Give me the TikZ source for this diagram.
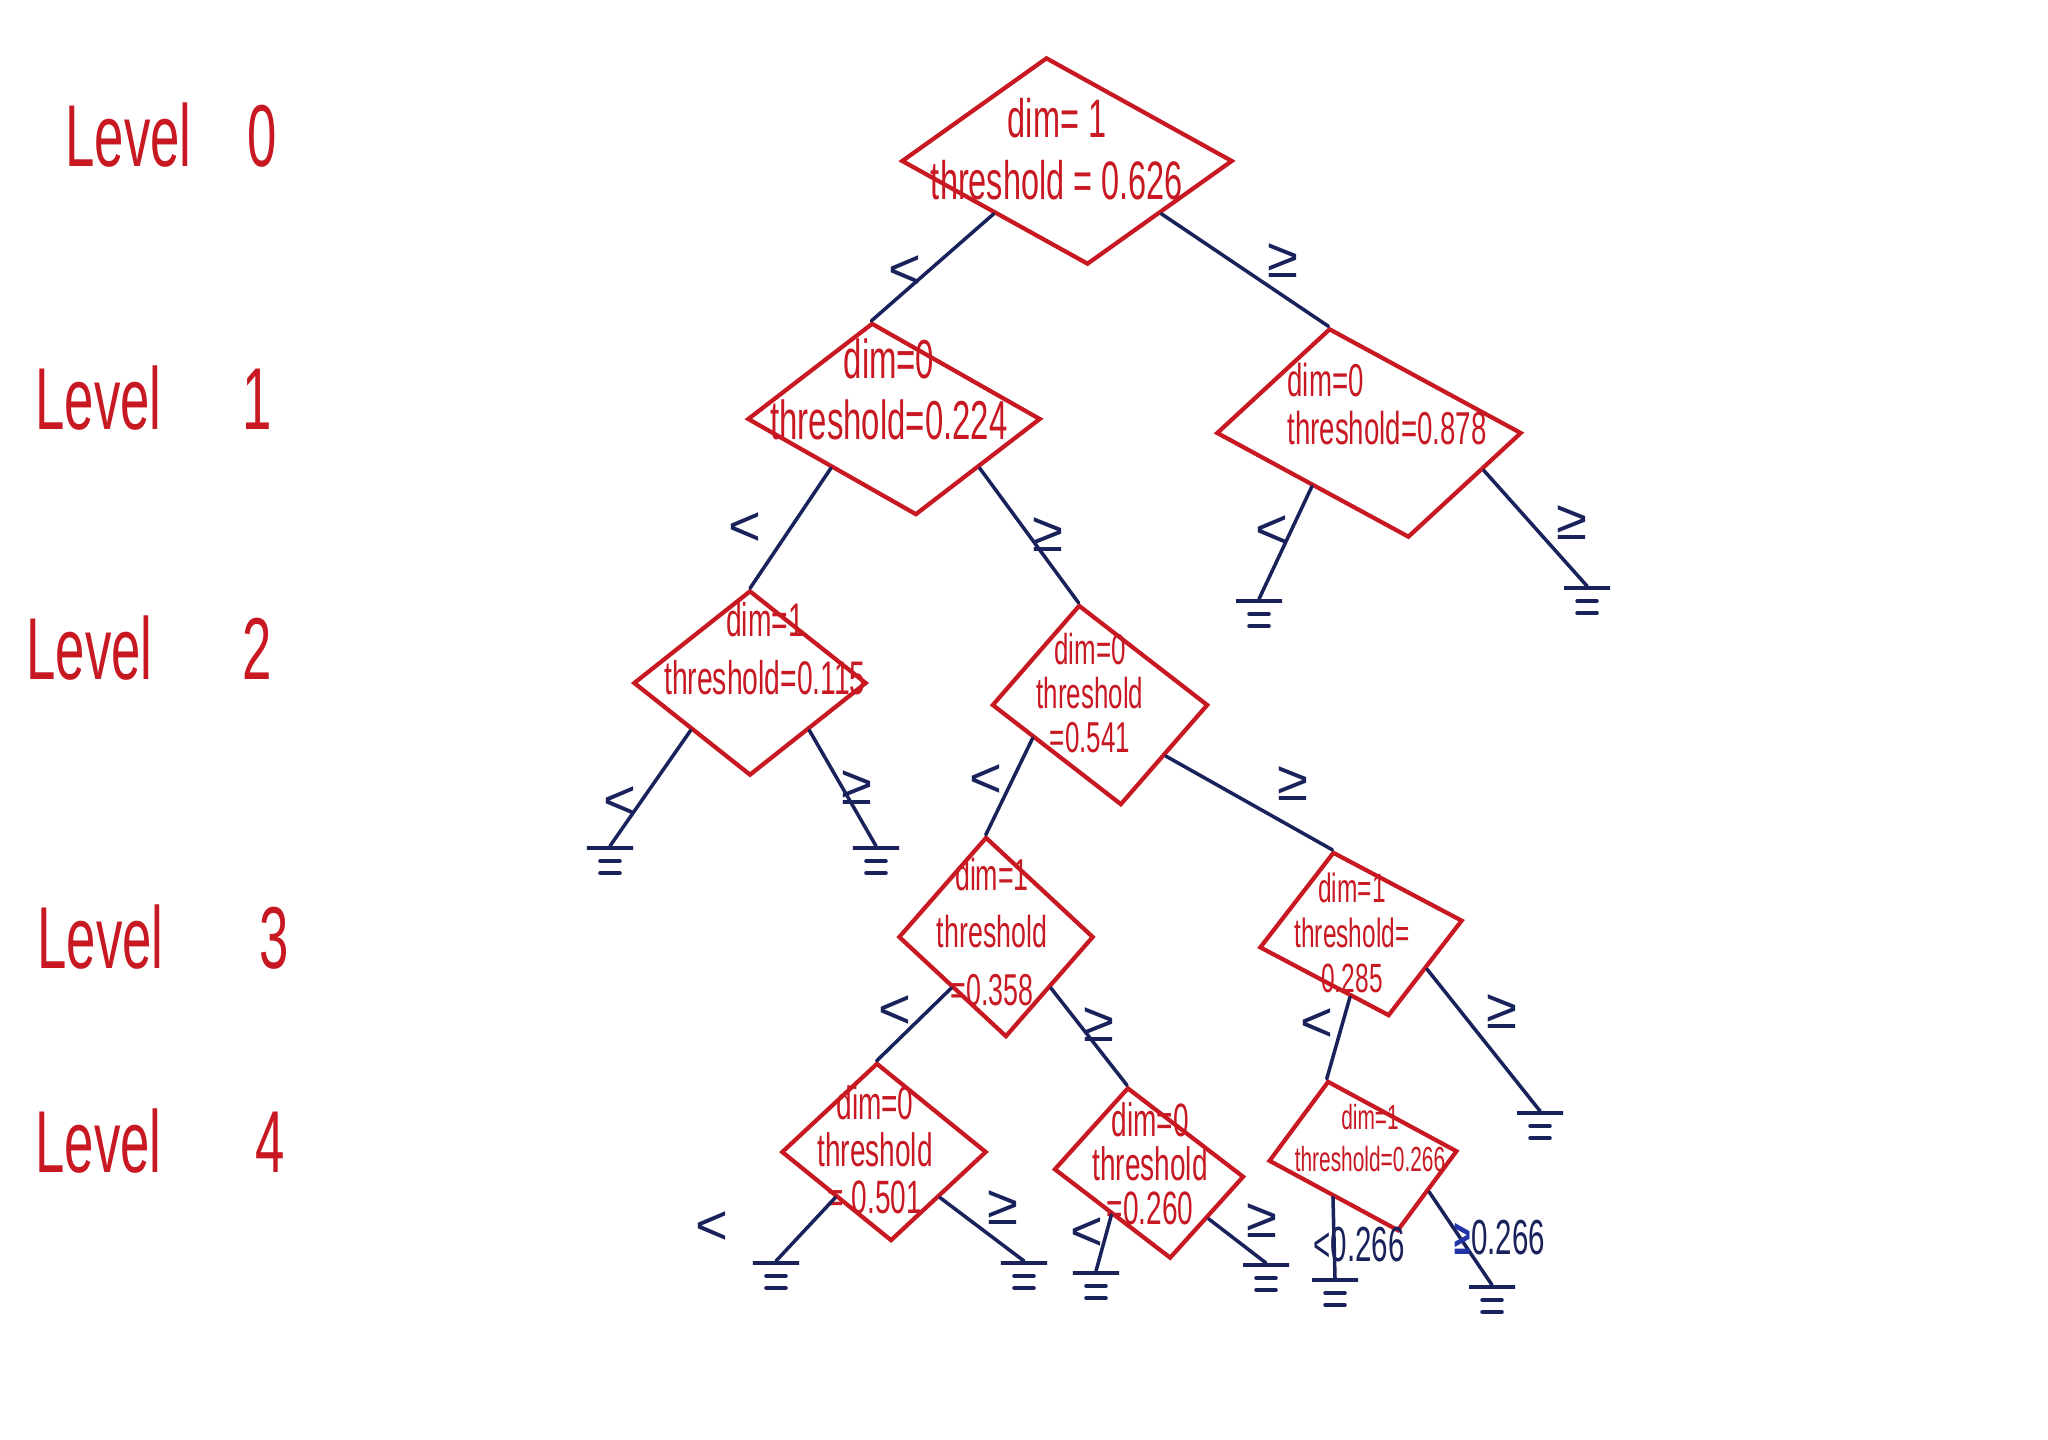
\documentclass[tikz,border=0pt]{standalone}
\usepackage{fontspec}
\setmainfont{Liberation Sans}
\usetikzlibrary{shapes.geometric,calc}
\definecolor{inkred}{RGB}{200,24,34}
\definecolor{inkblue}{RGB}{26,34,92}
\definecolor{inkbright}{RGB}{34,52,168}

\begin{document}
\begin{tikzpicture}[x=0.01cm, y=-0.01cm,
  split/.style={diamond, draw=inkred, line width=1.2pt, inner sep=0pt},
  hand/.style={text=inkred, align=center, inner sep=0pt, xscale=0.6},
  level/.style={text=inkred, anchor=west, inner sep=0pt, xscale=0.6, font=\fontsize{25}{25}\selectfont},
  wire/.style={draw=inkblue, line width=1pt, line cap=round},
  cmp/.style={text=inkblue, inner sep=0pt, font=\fontsize{16}{16}\selectfont},
  leaf/.style={anchor=north, minimum width=0.46cm, minimum height=0.3cm, inner sep=0pt, outer sep=0pt,
    path picture={
      \draw[wire] ([yshift=-0.02cm]path picture bounding box.north west) -- ([yshift=-0.02cm]path picture bounding box.north east);
      \draw[wire] ([xshift=-0.1cm,yshift=0.15cm]path picture bounding box.south) -- ++(0.2cm,0);
      \draw[wire] ([xshift=-0.1cm,yshift=0.03cm]path picture bounding box.south) -- ++(0.2cm,0);
    }}]
\fill[white] (0,0) rectangle (2048,1439);
\useasboundingbox (0,0) rectangle (2048,1439);

% levels
\node[level] (v0) at (65,135) {Level\hspace{0.93cm}0};
\node[level] (v1) at (35,398) {Level\hspace{1.35cm}1};
\node[level] (v2) at (26,648) {Level\hspace{1.5cm}2};
\node[level] (v3) at (37,937) {Level\hspace{1.6cm}3};
\node[level] (v4) at (35,1141) {Level\hspace{1.57cm}4};

% splits
\node[split, minimum width=3.31cm, minimum height=2.07cm, xslant=-0.2] (d0) at (1067,161) {};
\node[split, minimum width=2.93cm, minimum height=1.92cm, xslant=-0.23] (d1) at (894,419) {};
\node[split, minimum width=3.05cm, minimum height=2.09cm, xslant=-0.38] (d2) at (1369,433) {};
\node[split, minimum width=2.33cm, minimum height=1.85cm] (d3) at (750,683) {};
\node[split, minimum width=2.16cm, minimum height=2.00cm, xslant=-0.21] (d4) at (1100,705) {};
\node[split, minimum width=1.95cm, minimum height=2.00cm, xslant=-0.1] (d5) at (996,937) {};
\node[split, minimum width=2.12cm, minimum height=1.64cm, xslant=-0.34, yslant=0.127] (d6) at (1361,934) {};
\node[split, minimum width=2.05cm, minimum height=1.78cm, xslant=-0.08] (d7) at (884,1152) {};
\node[split, minimum width=1.88cm, minimum height=1.71cm, xslant=-0.25, yslant=-0.04] (d8) at (1149,1173) {};
\node[split, minimum width=1.93cm, minimum height=1.50cm, xslant=-0.47, yslant=0.05] (d9) at (1363,1156) {};

\node[hand, font=\fontsize{15.4}{17.6}\selectfont] (t0) at (1057,149) {dim= 1\\threshold = 0.626};
\node[hand, font=\fontsize{15.6}{17.4}\selectfont] (t1) at (889,389) {dim=0\\threshold=0.224};
\node[hand, align=left, font=\fontsize{13.1}{13.7}\selectfont] (t2) at (1387,404) {dim=0\\threshold=0.878};
\node[hand, font=\fontsize{13.4}{16.5}\selectfont] (t3) at (765,649) {dim=1\\threshold=0.115};
\node[hand, font=\fontsize{12.3}{12.5}\selectfont] (t4) at (1090,693) {dim=0\\threshold\\=0.541};
\node[hand, font=\fontsize{12.7}{16.3}\selectfont] (t5) at (992,932) {dim=1\\threshold\\=0.358};
\node[hand, font=\fontsize{11.6}{12.7}\selectfont] (t6) at (1352,933) {dim=1\\threshold=\\0.285};
\node[hand, font=\fontsize{13.3}{13.4}\selectfont] (t7) at (875,1150) {dim=0\\threshold\\= 0.501};
\node[hand, font=\fontsize{13.3}{12.5}\selectfont] (t8) at (1150,1164) {dim=0\\threshold\\=0.260};
\node[hand, font=\fontsize{9.9}{12.2}\selectfont] (t9) at (1370,1138) {dim=1\\threshold=0.266};

% leaves
\node[leaf] (f1) at (1259,599) {};
\node[leaf] (f2) at (1587,586) {};
\node[leaf] (f3) at (610,846) {};
\node[leaf] (f4) at (876,846) {};
\node[leaf] (f5) at (776,1261) {};
\node[leaf] (f6) at (1024,1261) {};
\node[leaf] (f7) at (1096,1271) {};
\node[leaf] (f8) at (1266,1263) {};
\node[leaf] (f9) at (1335,1278) {};
\node[leaf] (f10) at (1492,1285) {};
\node[leaf] (f11) at (1540,1111) {};

% branches
\draw[wire] (d0.south west) -- (d1.north);
\draw[wire] (d0.south east) -- (d2.north);
\draw[wire] (d1.south west) -- (d3.north);
\draw[wire] (d1.south east) -- (d4.north);
\draw[wire] (d2.south west) -- (f1.north);
\draw[wire] ($(d2.south east)!0.3!(d2.east)$) -- (f2.north);
\draw[wire] (d3.south west) -- (f3.north);
\draw[wire] (d3.south east) -- (f4.north);
\draw[wire] ($(d4.south west)!0.35!(d4.west)$) -- (d5.north);
\draw[wire] (d4.south east) -- (d6.north);
\draw[wire] (d5.south west) -- (d7.north);
\draw[wire] (d5.south east) -- (d8.north);
\draw[wire] ($(d6.south west)!0.4!(d6.south)$) -- (d9.north);
\draw[wire] (d6.south east) -- (f11.north);
\draw[wire] (d7.south west) -- (f5.north);
\draw[wire] (d7.south east) -- (f6.north);
\draw[wire] (d8.south west) -- (f7.north);
\draw[wire] (d8.south east) -- (f8.north);
\draw[wire] (d9.south west) -- (f9.north);
\draw[wire] (d9.south east) -- (f10.north);

\node[cmp] (c1) at (905,272) {<};
\node[cmp] (c2) at (1283,261) {≥};
\node[cmp] (c3) at (745,529) {<};
\node[cmp] (c4) at (1048,535) {≥};
\node[cmp] (c5) at (1272,532) {<};
\node[cmp] (c6) at (1572,523) {≥};
\node[cmp] (c7) at (620,803) {<};
\node[cmp] (c8) at (857,788) {≥};
\node[cmp] (c9) at (986,781) {<};
\node[cmp] (c10) at (1293,784) {≥};
\node[cmp] (c11) at (895,1012) {<};
\node[cmp] (c12) at (1099,1025) {≥};
\node[cmp] (c13) at (1317,1025) {<};
\node[cmp] (c14) at (1502,1012) {≥};
\node[cmp] (c15) at (712,1228) {<};
\node[cmp] (c16) at (1003,1208) {≥};
\node[cmp] (c17) at (1087,1234) {<};
\node[cmp] (c18) at (1262,1221) {≥};
\node[cmp, xscale=0.6, font=\fontsize{14}{14}\selectfont] (c19) at (1359,1245) {<0.266};
\node[cmp, xscale=0.6, font=\fontsize{14}{14}\selectfont] (c20) at (1500,1238) {\textcolor{inkbright}{\textbf{≥}}0.266};

\end{tikzpicture}
\end{document}
